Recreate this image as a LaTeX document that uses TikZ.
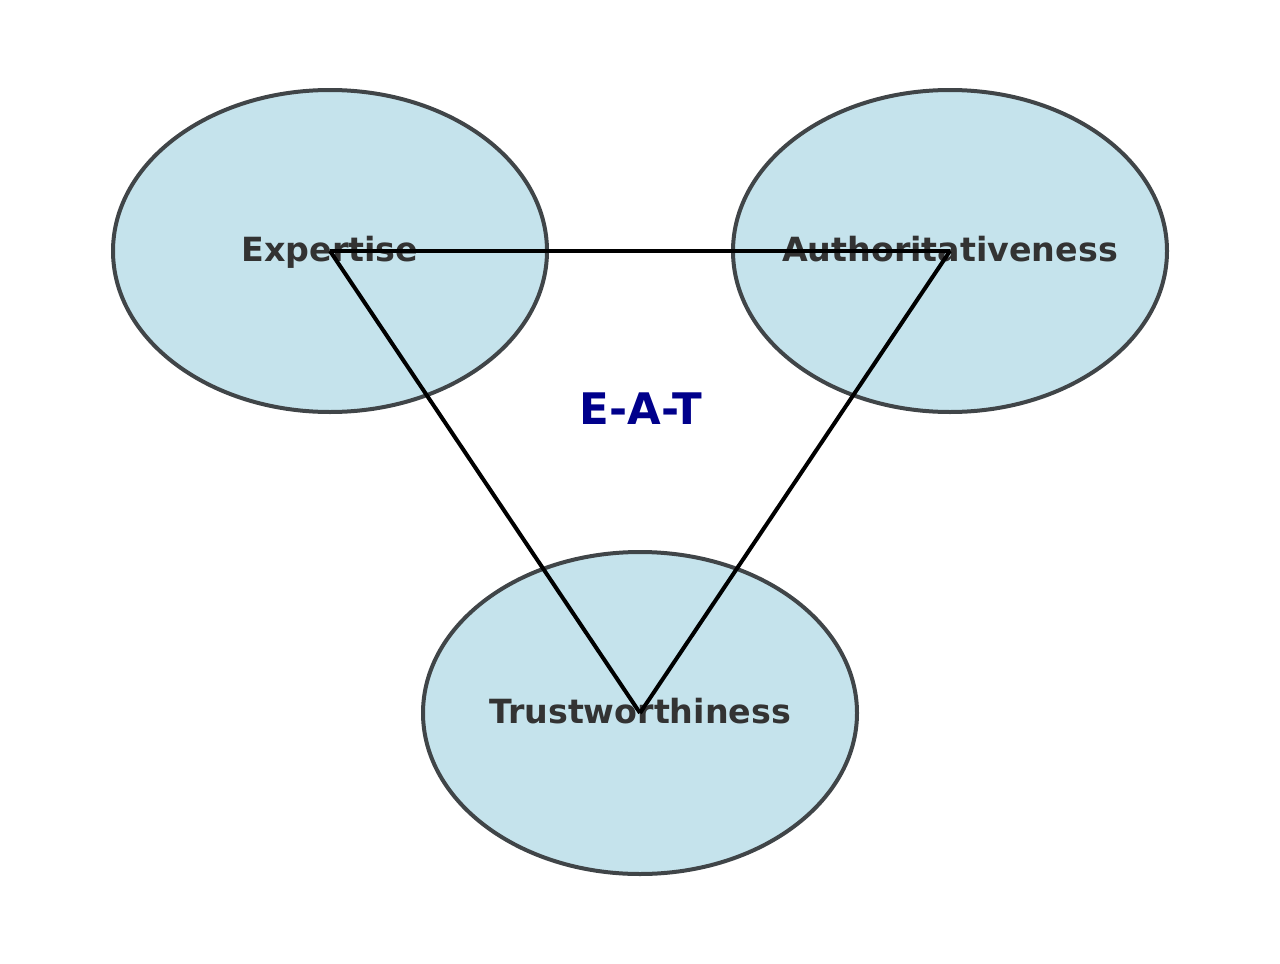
\documentclass[tikz,border=0pt]{standalone}
\usepackage{fontspec}
\setmainfont{DejaVu Sans}
\usetikzlibrary{shapes.geometric}
\definecolor{fillblue}{HTML}{C5E3EC}
\definecolor{edgegray}{HTML}{404548}
\definecolor{txtgray}{HTML}{333333}
\definecolor{eatblue}{HTML}{00008B}
\tikzset{
  pillar/.style={ellipse, draw=edgegray, fill=fillblue, line width=4pt,
    minimum width=434pt, minimum height=322pt, inner sep=0pt},
  pillarlabel/.style={anchor=base, inner sep=0pt, text=txtgray,
    font=\fontsize{33.3}{36}\selectfont\bfseries},
  link/.style={draw=black, line width=4pt}
}
\begin{document}
\begin{tikzpicture}[x=1pt,y=-1pt]
\useasboundingbox (0,0) rectangle (1280,964);
\node[pillar] (e) at (330,251) {};
\node[pillar] (a) at (950,251) {};
\node[pillar] (t) at (640,713) {};
\node[pillarlabel] (el) at (330,261) {Expertise};
\node[pillarlabel] (al) at (950,261) {Authoritativeness};
\node[pillarlabel] (tl) at (640,723) {Trustworthiness};
\node[anchor=base, inner sep=0pt, text=eatblue, font=\fontsize{43.5}{46}\selectfont\bfseries] (eat) at (641,424) {E-A-T};
\draw[link] (e.center) -- (a.center);
\draw[link] (e.center) -- (t.center);
\draw[link] (a.center) -- (t.center);
\end{tikzpicture}
\end{document}
